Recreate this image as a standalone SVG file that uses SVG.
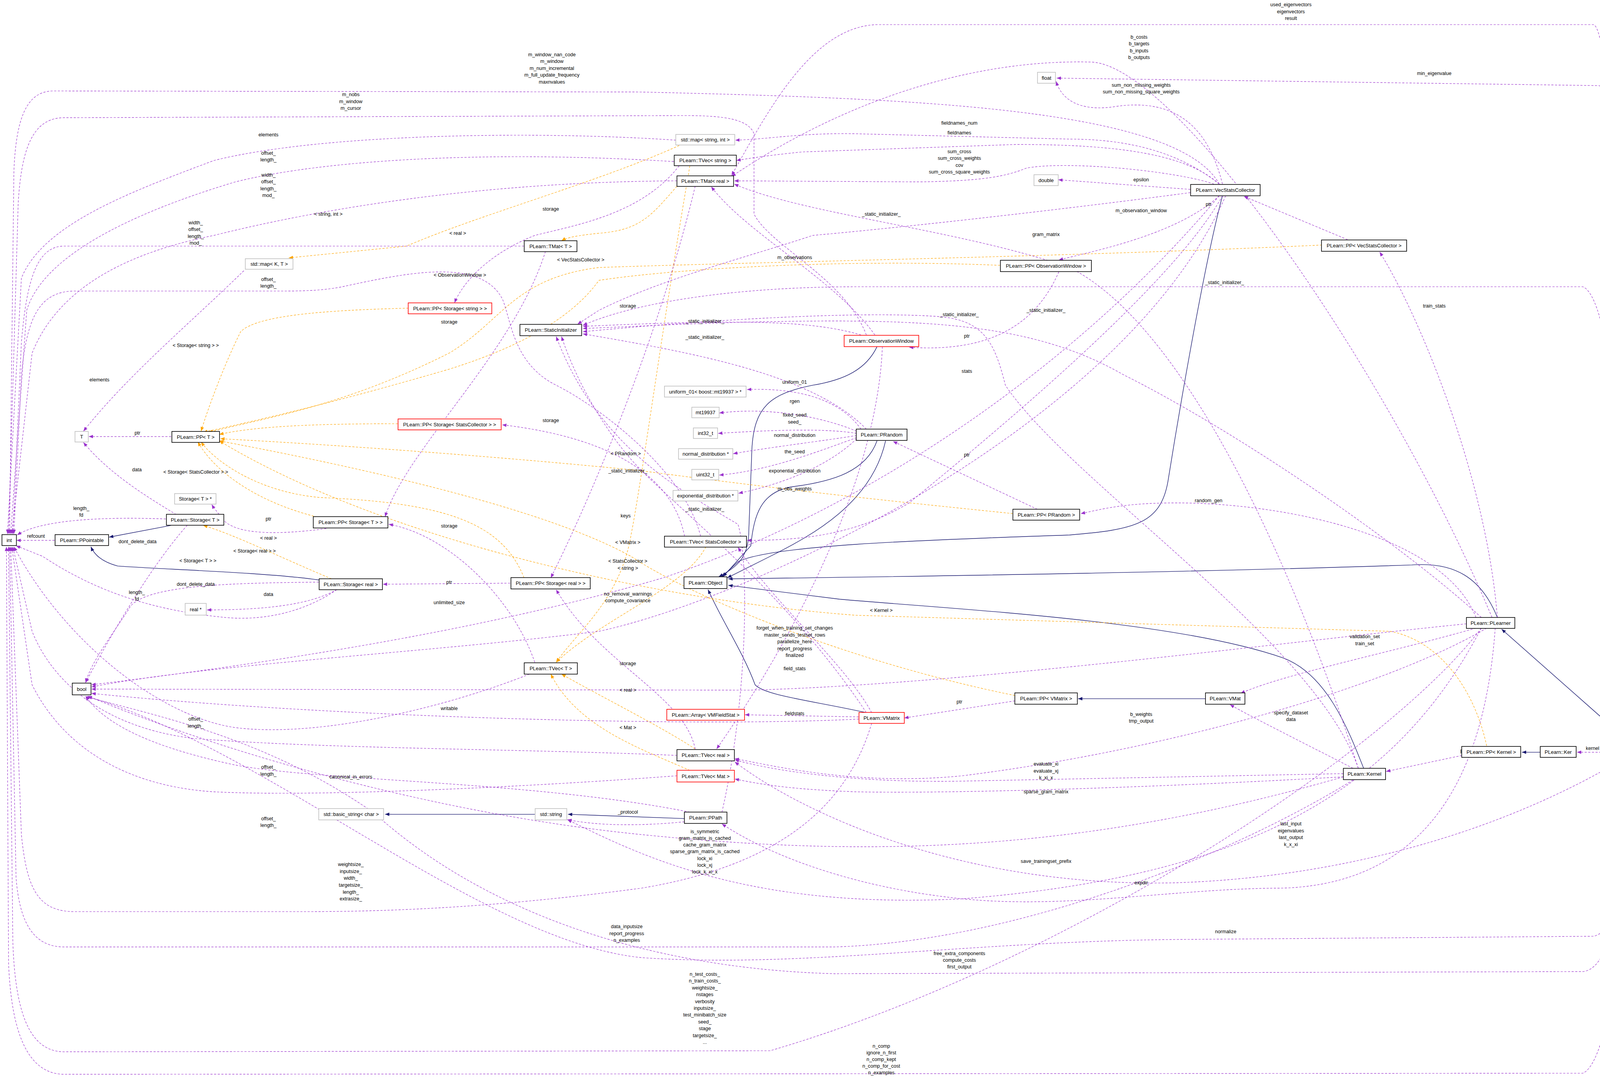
<svg xmlns="http://www.w3.org/2000/svg" width="4293" height="2761" viewBox="0 0 4293 2761">
<style>
.n rect{fill:#fff;stroke:#000;stroke-width:1.6}
.g rect{fill:#fff;stroke:#bfbfbf;stroke-width:1.6}
.r rect{fill:#fff;stroke:#f00;stroke-width:1.6}
.k rect{fill:#bfbfbf;stroke:#000;stroke-width:1.6}
.n text,.g text,.r text,.k text{font-family:"Liberation Sans",Arial,sans-serif;font-size:13px;text-anchor:middle;fill:#000}
.p{fill:none;stroke:#9a32cd;stroke-width:0.42;stroke-dasharray:2,1.4;marker-end:url(#ap)}
.o{fill:none;stroke:#ffa500;stroke-width:0.42;stroke-dasharray:2,1.4;marker-end:url(#ao)}
.s{fill:none;stroke:#191970;stroke-width:0.5;marker-end:url(#as)}
.l{font-family:"Liberation Sans",Arial,sans-serif;font-size:4.6px;text-anchor:middle;fill:#000}
</style>
<defs>
<marker id="ap" markerUnits="userSpaceOnUse" markerWidth="5" markerHeight="4" refX="4" refY="1.6" orient="auto"><path d="M0,0 L4,1.6 L0,3.2 z" fill="#9a32cd"/></marker>
<marker id="ao" markerUnits="userSpaceOnUse" markerWidth="5" markerHeight="4" refX="4" refY="1.6" orient="auto"><path d="M0,0 L4,1.6 L0,3.2 z" fill="#ffa500"/></marker>
<marker id="as" markerUnits="userSpaceOnUse" markerWidth="5" markerHeight="4" refX="4" refY="1.6" orient="auto"><path d="M0,0 L4,1.6 L0,3.2 z" fill="#191970"/></marker>
</defs>
<rect width="4293" height="2761" fill="#fff"/>
<g id="edges" transform="scale(2.738)">
<!-- solid -->
<path class="s" d="M1528,697.6 L1404,588"/>
<path class="s" d="M1440,703 L1423,703"/>
<path class="s" d="M1400,577 C1385,540 1360,525 1320,528 C1200,532 1000,537 681,541"/>
<path class="s" d="M1275,718 C1260,680 1240,630 1200,615 C1100,580 900,570 785,560 L681,547"/>
<path class="s" d="M1143,183 C1125,250 1100,400 1092,450 C1085,490 1060,495 1000,500 C850,505 720,510 690,525 L675,539"/>
<path class="s" d="M820,324 C810,345 790,355 760,360 C720,368 705,380 703,420 L700,500 C699,520 690,530 672,539"/>
<path class="s" d="M820,412 C810,440 780,450 740,455 C712,460 705,480 702,510 L676,539"/>
<path class="s" d="M828,412 C815,470 760,500 720,520 L680,540"/>
<path class="s" d="M810,666 C760,655 715,650 706,640 C695,610 675,580 662,551"/>
<path class="s" d="M1127,653 L1008,653"/>
<path class="s" d="M640,765 L531,761"/>
<path class="s" d="M500,761 L360,761"/>
<path class="s" d="M160,491 L102,502"/>
<path class="s" d="M298,542 C250,535 150,532 110,529 C95,525 88,518 85,511"/>
<!-- orange -->
<path class="o" d="M1390,697 C1380,650 1350,600 1300,590 L800,575 C600,560 350,500 205,412"/>
<path class="o" d="M947,480 C850,470 750,460 600,440 C450,425 300,415 206,410"/>
<path class="o" d="M1236,229 C1000,240 700,245 560,250 C480,260 470,300 420,330 C320,380 250,390 195,404"/>
<path class="o" d="M935,248 C800,242 640,250 560,262 C540,290 500,320 420,345 C300,380 230,395 190,404"/>
<path class="o" d="M382,288 C300,290 240,295 225,310 C210,340 195,380 188,403"/>
<path class="o" d="M372,396 C300,396 240,398 205,406"/>
<path class="o" d="M490,540 C470,490 420,470 300,465 C240,460 200,430 188,413"/>
<path class="o" d="M300,484 C240,470 200,440 185,413"/>
<path class="o" d="M310,541 C260,520 220,500 190,491"/>
<path class="o" d="M635,136 C560,170 450,200 380,230 L270,241"/>
<path class="o" d="M633,174 C610,200 600,215 560,218 C540,220 530,222 525,225"/>
<path class="o" d="M949,650 C800,620 650,560 590,520 C500,470 300,430 205,412"/>
<path class="o" d="M660,511 C640,550 560,580 520,619"/>
<path class="o" d="M645,155 C620,300 600,450 590,500 C580,560 540,590 520,619"/>
<path class="o" d="M650,700 C620,680 560,650 525,630"/>
<path class="o" d="M645,720 C600,700 540,680 515,630"/>
<!-- purple -->
<path class="p" d="M1140,172 C1100,100 850,92 600,86 L50,85 C25,85 15,110 13,160 L9,499"/>
<path class="p" d="M810,313 C790,260 720,230 705,200 L705,125 C700,112 680,108 640,108 L60,110 C30,110 20,140 17,190 L8,499"/>
<path class="p" d="M632,131 C500,122 300,125 200,150 C120,180 40,210 20,260 L7,499"/>
<path class="p" d="M630,151 C450,140 300,150 220,170 C120,200 40,240 25,290 L10,499"/>
<path class="p" d="M633,169 C450,170 300,195 200,220 C100,240 50,280 30,330 L11,499"/>
<path class="p" d="M490,230 L60,230 C35,230 25,260 20,320 L12,499"/>
<path class="p" d="M655,501 C640,440 560,380 520,360 C480,340 478,300 470,280 C450,240 380,255 320,268 C300,272 280,272 260,272 L70,272 C35,272 25,300 20,350 L13,499"/>
<path class="p" d="M155,485 C100,483 40,485 16,500"/>
<path class="p" d="M51,505 L15.5,505"/>
<path class="p" d="M315,551 C280,575 240,580 210,577 C160,572 100,560 40,520 L15,510"/>
<path class="p" d="M1533,708 C1525,800 1510,990 1480,1003 L60,1004 C20,1004 10,950 8,900 L6,511"/>
<path class="p" d="M1385,587 C1300,700 1000,900 720,982 L60,983 C25,983 14,940 12,880 L8,511"/>
<path class="p" d="M1265,729 C1150,800 950,880 780,885 L60,885 C30,885 18,860 15,820 L9,511"/>
<path class="p" d="M815,676 C790,760 720,810 600,830 C450,850 350,852 280,852 L70,852 C35,852 25,830 20,780 L10,511"/>
<path class="p" d="M1528,708 C1522,800 1515,870 1490,875 L1100,878 C900,880 750,905 600,895 C450,880 250,700 82,651"/>
<path class="p" d="M1525,708 C1520,820 1510,905 1480,908 L780,910 C600,905 450,850 350,760 C250,690 150,670 80,651"/>
<path class="p" d="M633,725 C500,735 300,745 200,740 C120,735 60,700 30,640 L11,511"/>
<path class="p" d="M633,706 C500,700 300,700 180,690 C100,680 50,640 30,590 L12,511"/>
<path class="p" d="M495,630 C420,660 300,690 220,680 C150,670 60,600 13,511"/>
<path class="p" d="M175,491 C140,530 100,600 80,638"/>
<path class="p" d="M298,544 C230,545 130,545 120,570 C100,600 85,620 80,638"/>
<path class="p" d="M315,551 C290,565 250,570 193.5,570"/>
<path class="p" d="M165,481 C130,460 100,440 78,413.5"/>
<path class="p" d="M160,408 L83,408"/>
<path class="p" d="M305,494 C260,500 220,500 208,485 C203,478 200,475 198,471.5"/>
<path class="p" d="M477,545 L358,546"/>
<path class="p" d="M500,619 C480,560 420,500 363.5,490"/>
<path class="p" d="M650,700 C640,650 560,620 520,551"/>
<path class="p" d="M510,235 C480,330 380,420 360,483"/>
<path class="p" d="M635,155 C600,200 540,210 500,220 C450,240 430,270 425,283"/>
<path class="p" d="M640,501 C630,450 580,410 469.5,397"/>
<path class="p" d="M650,174 C620,300 560,450 515,540"/>
<path class="p" d="M228,253 C180,300 120,350 78,403"/>
<path class="p" d="M1113,180 C1000,195 850,212 760,220 C700,240 620,260 560,290 L540,303"/>
<path class="p" d="M1530,697 C1525,500 1510,280 1480,268 L800,268 C700,268 600,280 545,304"/>
<path class="p" d="M1385,577 C1300,500 1150,400 1050,350 C980,310 900,300 780,300 C680,300 600,305 545,307"/>
<path class="p" d="M1270,718 C1230,600 1000,450 940,360 C930,320 920,300 880,296 C800,290 650,300 545,310"/>
<path class="p" d="M810,401 C760,350 650,330 545,312"/>
<path class="p" d="M805,313 C760,300 700,298 545,305"/>
<path class="p" d="M810,666 C740,560 640,480 600,440 C570,410 540,360 525,314.5"/>
<path class="p" d="M675,759 C700,650 700,520 690,490 C640,460 560,420 520,314.5"/>
<path class="p" d="M1113,177 L989.5,168"/>
<path class="p" d="M1143,172 C1130,120 1100,90 1040,100 C1000,105 990,85 987.5,76"/>
<path class="p" d="M1537,697 C1530,400 1515,85 1495,80 L988,73"/>
<path class="p" d="M1140,172 C1100,140 1050,130 1000,130 L800,125 C750,124 720,130 687.5,131"/>
<path class="p" d="M1140,172 C1110,145 1050,135 950,135 L750,142 C720,145 700,148 688.5,150"/>
<path class="p" d="M1135,172 C1100,160 1000,150 960,157 C940,165 920,169 860,170 L686.5,169"/>
<path class="p" d="M1530,697 C1525,400 1510,30 1490,23 L820,23 C760,25 720,100 684,164"/>
<path class="p" d="M1395,577 C1300,350 1100,60 1020,58 C900,55 780,100 684,165"/>
<path class="p" d="M1270,718 C1200,500 1100,300 1000,250 C900,215 750,200 686.5,172"/>
<path class="p" d="M818,313 C780,260 700,220 665,174.5"/>
<path class="p" d="M1140,183 C1100,220 1020,235 990,243"/>
<path class="p" d="M1260,224 L1163,183.5"/>
<path class="p" d="M990,254 C970,300 930,330 850,324.5"/>
<path class="p" d="M970,476 L835,412.5"/>
<path class="p" d="M1400,577 C1390,450 1330,300 1290,235.5"/>
<path class="p" d="M1143,183 C1100,260 960,380 850,470 C800,500 750,505 698.5,505"/>
<path class="p" d="M1380,577 C1350,500 1200,470 1100,470 C1050,470 1030,476 1010.5,480"/>
<path class="p" d="M805,401 C790,380 760,362 698.5,364"/>
<path class="p" d="M801,403 C770,390 720,380 672.5,386"/>
<path class="p" d="M801,405 C770,400 720,402 671.5,405"/>
<path class="p" d="M801,407 C770,412 720,418 685.5,424"/>
<path class="p" d="M801,409 C770,420 720,440 672.5,444"/>
<path class="p" d="M801,410 C770,440 720,455 690.5,461"/>
<path class="p" d="M825,324 C820,450 740,600 670,700"/>
<path class="p" d="M803,670 L696.5,668"/>
<path class="p" d="M1371,583 C1200,600 900,640 700,645 L85.5,644"/>
<path class="p" d="M815,666 C790,620 720,560 690,511.5"/>
<path class="p" d="M1140,183 C1000,350 800,480 620,540 C450,590 250,620 85.5,640"/>
<path class="p" d="M1146,183 C1050,400 700,560 560,590 C400,610 200,620 85.5,642"/>
<path class="p" d="M803,672 C650,680 300,670 85.5,648"/>
<path class="p" d="M645,759 C500,730 300,730 220,715 C150,700 100,680 80,650.5"/>
<path class="p" d="M640,768 C600,772 560,772 530.5,766"/>
<path class="p" d="M1256,726 C1000,800 800,800 600,780 C400,760 200,700 82,650.5"/>
<path class="p" d="M1265,718 C1230,700 1170,670 1150,658.5"/>
<path class="p" d="M1380,587 C1300,610 1200,630 1160,648"/>
<path class="p" d="M949,655 L845.5,671"/>
<path class="p" d="M1390,587 C1300,640 1100,700 900,725 C800,735 720,715 687,709"/>
<path class="p" d="M1256,723 L900,730 C800,732 720,720 687,710"/>
<path class="p" d="M1256,726 C1100,735 900,742 800,740 C750,738 720,735 687,728"/>
<path class="p" d="M1520,708 C1400,780 1250,820 1100,825 C900,830 750,760 687,712"/>
<path class="p" d="M1385,587 C1300,750 1150,820 900,840 C700,850 600,800 530.5,766"/>
<path class="p" d="M1398,587 C1390,700 1350,825 1200,830 C1100,830 1000,850 900,840 C800,830 720,800 675,770"/>
<path class="p" d="M1367,706 L1296,721"/>
<path class="p" d="M1504,703 L1474.5,703"/>
</g>
<g id="labels" transform="scale(2.738)">
<text class="l" x="516" y="52.5">m_window_nan_code<tspan x="516" dy="6.4">m_window</tspan><tspan x="516" dy="6.4">m_num_incremental</tspan><tspan x="516" dy="6.4">m_full_update_frequency</tspan><tspan x="516" dy="6.4">maxnvalues</tspan></text>
<text class="l" x="328" y="90">m_nobs<tspan x="328" dy="6.4">m_window</tspan><tspan x="328" dy="6.4">m_cursor</tspan></text>
<text class="l" x="251" y="127.5">elements</text>
<text class="l" x="251" y="144.5">offset_<tspan x="251" dy="6.4">length_</tspan></text>
<text class="l" x="251" y="165">width_<tspan x="251" dy="6.4">offset_</tspan><tspan x="251" dy="6.4">length_</tspan><tspan x="251" dy="6.4">mod_</tspan></text>
<text class="l" x="183" y="209.5">width_<tspan x="183" dy="6.4">offset_</tspan><tspan x="183" dy="6.4">length_</tspan><tspan x="183" dy="6.4">mod_</tspan></text>
<text class="l" x="251" y="262.5">offset_<tspan x="251" dy="6.4">length_</tspan></text>
<text class="l" x="76" y="476.5">length_<tspan x="76" dy="6.4">fd</tspan></text>
<text class="l" x="33.6" y="502.5">refcount</text>
<text class="l" x="128" y="555">length_<tspan x="128" dy="6.4">fd</tspan></text>
<text class="l" x="824" y="979">n_comp<tspan x="824" dy="6.3">ignore_n_first</tspan><tspan x="824" dy="6.3">n_comp_kept</tspan><tspan x="824" dy="6.3">n_comp_for_cost</tspan><tspan x="824" dy="6.3">n_examples</tspan></text>
<text class="l" x="659" y="912">n_test_costs_<tspan x="659" dy="6.35">n_train_costs_</tspan><tspan x="659" dy="6.35">weightsize_</tspan><tspan x="659" dy="6.35">nstages</tspan><tspan x="659" dy="6.35">verbosity</tspan><tspan x="659" dy="6.35">inputsize_</tspan><tspan x="659" dy="6.35">test_minibatch_size</tspan><tspan x="659" dy="6.35">seed_</tspan><tspan x="659" dy="6.35">stage</tspan><tspan x="659" dy="6.35">targetsize_</tspan><tspan x="659" dy="6.35">...</tspan></text>
<text class="l" x="586" y="867.5">data_inputsize<tspan x="586" dy="6.4">report_progress</tspan><tspan x="586" dy="6.4">n_examples</tspan></text>
<text class="l" x="328" y="809.5">weightsize_<tspan x="328" dy="6.4">inputsize_</tspan><tspan x="328" dy="6.4">width_</tspan><tspan x="328" dy="6.4">targetsize_</tspan><tspan x="328" dy="6.4">length_</tspan><tspan x="328" dy="6.4">extrasize_</tspan></text>
<text class="l" x="1146" y="872">normalize</text>
<text class="l" x="897" y="892.5">free_extra_components<tspan x="897" dy="6.3">compute_costs</tspan><tspan x="897" dy="6.3">first_output</tspan></text>
<text class="l" x="251" y="766.5">offset_<tspan x="251" dy="6.4">length_</tspan></text>
<text class="l" x="251" y="718.5">offset_<tspan x="251" dy="6.4">length_</tspan></text>
<text class="l" x="183" y="673.5">offset_<tspan x="183" dy="6.4">length_</tspan></text>
<text class="l" x="128.6" y="507.5">dont_delete_data</text>
<text class="l" x="183" y="547.5">dont_delete_data</text>
<text class="l" x="251" y="557">data</text>
<text class="l" x="128" y="440.5">data</text>
<text class="l" x="128.5" y="406">ptr</text>
<text class="l" x="251" y="486.5">ptr</text>
<text class="l" x="420" y="545.5">ptr</text>
<text class="l" x="420" y="493">storage</text>
<text class="l" x="587" y="621.5">storage</text>
<text class="l" x="420" y="302.5">storage</text>
<text class="l" x="515" y="197">storage</text>
<text class="l" x="515" y="394.5">storage</text>
<text class="l" x="587" y="287.5">storage</text>
<text class="l" x="93" y="356.5">elements</text>
<text class="l" x="307" y="201.5">&lt; string, int &gt;</text>
<text class="l" x="428" y="219.5">&lt; real &gt;</text>
<text class="l" x="543" y="244.5">&lt; VecStatsCollector &gt;</text>
<text class="l" x="430" y="258.5">&lt; ObservationWindow &gt;</text>
<text class="l" x="183" y="324.5">&lt; Storage&lt; string &gt; &gt;</text>
<text class="l" x="183" y="442.5">&lt; Storage&lt; StatsCollector &gt; &gt;</text>
<text class="l" x="585" y="425.5">&lt; PRandom &gt;</text>
<text class="l" x="238" y="516.5">&lt; Storage&lt; real &gt; &gt;</text>
<text class="l" x="185" y="525.5">&lt; Storage&lt; T &gt; &gt;</text>
<text class="l" x="251" y="504.5">&lt; real &gt;</text>
<text class="l" x="585" y="483.5">keys</text>
<text class="l" x="824" y="572">&lt; Kernel &gt;</text>
<text class="l" x="587" y="508.5">&lt; VMatrix &gt;</text>
<text class="l" x="587" y="526">&lt; StatsCollector &gt;</text>
<text class="l" x="587" y="532.5">&lt; string &gt;</text>
<text class="l" x="587" y="646.5">&lt; real &gt;</text>
<text class="l" x="587" y="681.5">&lt; Mat &gt;</text>
<text class="l" x="659" y="301.5">_static_initializer_</text>
<text class="l" x="659" y="316.5">_static_initializer_</text>
<text class="l" x="587" y="441.5">_static_initializer_</text>
<text class="l" x="659" y="477.5">_static_initializer_</text>
<text class="l" x="824" y="201.5">_static_initializer_</text>
<text class="l" x="1145" y="265.5">_static_initializer_</text>
<text class="l" x="978" y="291.5">_static_initializer_</text>
<text class="l" x="897" y="295.5">_static_initializer_</text>
<text class="l" x="1067" y="169.5">epsilon</text>
<text class="l" x="1067" y="81">sum_non_missing_weights<tspan x="1067" dy="6.4">sum_non_missing_square_weights</tspan></text>
<text class="l" x="1341" y="70">min_eigenvalue</text>
<text class="l" x="897" y="116.5">fieldnames_num</text>
<text class="l" x="897" y="125.5">fieldnames</text>
<text class="l" x="897" y="143">sum_cross<tspan x="897" dy="6.4">sum_cross_weights</tspan><tspan x="897" dy="6.4">cov</tspan><tspan x="897" dy="6.4">sum_cross_square_weights</tspan></text>
<text class="l" x="1207" y="6">used_eigenvectors<tspan x="1207" dy="6.4">eigenvectors</tspan><tspan x="1207" dy="6.4">result</tspan></text>
<text class="l" x="1065" y="36">b_costs<tspan x="1065" dy="6.4">b_targets</tspan><tspan x="1065" dy="6.4">b_inputs</tspan><tspan x="1065" dy="6.4">b_outputs</tspan></text>
<text class="l" x="978" y="220.5">gram_matrix</text>
<text class="l" x="743" y="242">m_observations</text>
<text class="l" x="1067" y="198.5">m_observation_window</text>
<text class="l" x="1130" y="192.5">ptr</text>
<text class="l" x="904" y="315.5">ptr</text>
<text class="l" x="904" y="426.5">ptr</text>
<text class="l" x="1341" y="287.5">train_stats</text>
<text class="l" x="904" y="348.5">stats</text>
<text class="l" x="1130" y="469.5">random_gen</text>
<text class="l" x="743" y="358.5">uniform_01</text>
<text class="l" x="743" y="376.5">rgen</text>
<text class="l" x="743" y="389.5">fixed_seed<tspan x="743" dy="6.4">seed_</tspan></text>
<text class="l" x="743" y="408.5">normal_distribution</text>
<text class="l" x="743" y="423.5">the_seed</text>
<text class="l" x="743" y="441.5">exponential_distribution</text>
<text class="l" x="743" y="458.5">m_obs_weights</text>
<text class="l" x="743" y="668.5">fieldstats</text>
<text class="l" x="743" y="588.5">forget_when_training_set_changes<tspan x="743" dy="6.4">master_sends_testset_rows</tspan><tspan x="743" dy="6.4">parallelize_here</tspan><tspan x="743" dy="6.4">report_progress</tspan><tspan x="743" dy="6.4">finalized</tspan></text>
<text class="l" x="743" y="626.5">field_stats</text>
<text class="l" x="420" y="564.5">unlimited_size</text>
<text class="l" x="587" y="556.5">no_removal_warnings<tspan x="587" dy="6.4">compute_covariance</tspan></text>
<text class="l" x="420" y="663.5">writable</text>
<text class="l" x="328" y="727.5">canonical_in_errors</text>
<text class="l" x="587" y="760.5">_protocol</text>
<text class="l" x="659" y="778.5">is_symmetric<tspan x="659" dy="6.3">gram_matrix_is_cached</tspan><tspan x="659" dy="6.3">cache_gram_matrix</tspan><tspan x="659" dy="6.3">sparse_gram_matrix_is_cached</tspan><tspan x="659" dy="6.3">lock_xi</tspan><tspan x="659" dy="6.3">lock_xj</tspan><tspan x="659" dy="6.3">lock_k_xi_x</tspan></text>
<text class="l" x="1207" y="667.5">specify_dataset<tspan x="1207" dy="6.4">data</tspan></text>
<text class="l" x="1276" y="596.5">validation_set<tspan x="1276" dy="6.4">train_set</tspan></text>
<text class="l" x="897" y="657.5">ptr</text>
<text class="l" x="1067" y="669">b_weights<tspan x="1067" dy="6.4">tmp_output</tspan></text>
<text class="l" x="978" y="715.5">evaluate_xi<tspan x="978" dy="6.4">evaluate_xj</tspan><tspan x="978" dy="6.4">k_xi_x</tspan></text>
<text class="l" x="978" y="741.5">sparse_gram_matrix</text>
<text class="l" x="1207" y="771.5">last_input<tspan x="1207" dy="6.4">eigenvalues</tspan><tspan x="1207" dy="6.4">last_output</tspan><tspan x="1207" dy="6.4">k_x_xi</tspan></text>
<text class="l" x="978" y="806.5">save_trainingset_prefix</text>
<text class="l" x="1067" y="826.5">expdir</text>
<text class="l" x="1368" y="703">ptr</text>
<text class="l" x="1489" y="701">kernel</text>
</g>
<g id="nodes">
<g id="n_int" class="n"><rect x="5" y="1368" width="37" height="28"/><text x="23.5" y="1387">int</text></g>
<g id="n_PPointable" class="n"><rect x="141" y="1368" width="137" height="28"/><text x="209.5" y="1387">PLearn::PPointable</text></g>
<g id="n_bool" class="n"><rect x="185" y="1748" width="48" height="30"/><text x="209" y="1768">bool</text></g>
<g id="n_T" class="g"><rect x="192" y="1104" width="34" height="27"/><text x="209" y="1122">T</text></g>
<g id="n_PPT" class="n"><rect x="440" y="1104" width="122" height="28"/><text x="501" y="1123">PLearn::PP&lt; T &gt;</text></g>
<g id="n_StorageTptr" class="g"><rect x="447" y="1263" width="106" height="27"/><text x="500" y="1281">Storage&lt; T &gt; *</text></g>
<g id="n_StorageT" class="n"><rect x="426" y="1316" width="147" height="28"/><text x="499.5" y="1335">PLearn::Storage&lt; T &gt;</text></g>
<g id="n_PPStorageT" class="n"><rect x="802" y="1322" width="191" height="29"/><text x="897.5" y="1341">PLearn::PP&lt; Storage&lt; T &gt; &gt;</text></g>
<g id="n_StorageReal" class="n"><rect x="817" y="1481" width="162" height="28"/><text x="898" y="1500">PLearn::Storage&lt; real &gt;</text></g>
<g id="n_realptr" class="g"><rect x="474" y="1544" width="54" height="30"/><text x="501" y="1564">real *</text></g>
<g id="n_PPStorageReal" class="n"><rect x="1308" y="1478" width="203" height="29"/><text x="1409.5" y="1497">PLearn::PP&lt; Storage&lt; real &gt; &gt;</text></g>
<g id="n_mapKT" class="g"><rect x="628" y="662" width="122" height="27"/><text x="689" y="680">std::map&lt; K, T &gt;</text></g>
<g id="n_TMatT" class="n"><rect x="1342" y="616" width="135" height="28"/><text x="1409.5" y="635">PLearn::TMat&lt; T &gt;</text></g>
<g id="n_PPStorageString" class="r"><rect x="1045" y="775" width="214" height="28"/><text x="1152" y="794">PLearn::PP&lt; Storage&lt; string &gt; &gt;</text></g>
<g id="n_PPStorageSC" class="r"><rect x="1019" y="1072" width="264" height="28"/><text x="1151" y="1091">PLearn::PP&lt; Storage&lt; StatsCollector &gt; &gt;</text></g>
<g id="n_StaticInit" class="n"><rect x="1331" y="830" width="158" height="29"/><text x="1410" y="849">PLearn::StaticInitializer</text></g>
<g id="n_mapStringInt" class="g"><rect x="1730" y="344" width="151" height="27"/><text x="1805.5" y="362">std::map&lt; string, int &gt;</text></g>
<g id="n_TVecString" class="n"><rect x="1726" y="397" width="159" height="27"/><text x="1805.5" y="415">PLearn::TVec&lt; string &gt;</text></g>
<g id="n_TMatReal" class="n"><rect x="1733" y="450" width="145" height="27"/><text x="1805.5" y="468">PLearn::TMat&lt; real &gt;</text></g>
<g id="n_float" class="g"><rect x="2656" y="185" width="46" height="28"/><text x="2679" y="204">float</text></g>
<g id="n_double" class="g"><rect x="2647" y="447" width="62" height="28"/><text x="2678" y="466">double</text></g>
<g id="n_VSC" class="n"><rect x="3048" y="472" width="178" height="29"/><text x="3137" y="491">PLearn::VecStatsCollector</text></g>
<g id="n_PPVSC" class="n"><rect x="3383" y="614" width="218" height="29"/><text x="3492" y="633">PLearn::PP&lt; VecStatsCollector &gt;</text></g>
<g id="n_PPObsWin" class="n"><rect x="2561" y="666" width="233" height="29"/><text x="2677.5" y="685">PLearn::PP&lt; ObservationWindow &gt;</text></g>
<g id="n_ObsWin" class="r"><rect x="2161" y="858" width="191" height="29"/><text x="2256.5" y="877">PLearn::ObservationWindow</text></g>
<g id="n_uniform01" class="g"><rect x="1701" y="988" width="209" height="28"/><text x="1805.5" y="1007">uniform_01&lt; boost::mt19937 &gt; *</text></g>
<g id="n_mt19937" class="g"><rect x="1771" y="1042" width="70" height="27"/><text x="1806" y="1060">mt19937</text></g>
<g id="n_int32" class="g"><rect x="1775" y="1095" width="62" height="27"/><text x="1806" y="1113">int32_t</text></g>
<g id="n_normal" class="g"><rect x="1737" y="1148" width="139" height="27"/><text x="1806.5" y="1166">normal_distribution *</text></g>
<g id="n_uint32" class="g"><rect x="1771" y="1201" width="69" height="27"/><text x="1805.5" y="1219">uint32_t</text></g>
<g id="n_exp" class="g"><rect x="1723" y="1255" width="166" height="27"/><text x="1806" y="1273">exponential_distribution *</text></g>
<g id="n_PRandom" class="n"><rect x="2192" y="1098" width="130" height="29"/><text x="2257" y="1117">PLearn::PRandom</text></g>
<g id="n_PPPRandom" class="n"><rect x="2593" y="1303" width="171" height="28"/><text x="2678.5" y="1322">PLearn::PP&lt; PRandom &gt;</text></g>
<g id="n_TVecSC" class="n"><rect x="1701" y="1372" width="210" height="28"/><text x="1806" y="1391">PLearn::TVec&lt; StatsCollector &gt;</text></g>
<g id="n_Object" class="n"><rect x="1751" y="1476" width="110" height="30"/><text x="1806" y="1496">PLearn::Object</text></g>
<g id="n_TVecT" class="n"><rect x="1342" y="1696" width="136" height="29"/><text x="1410" y="1715">PLearn::TVec&lt; T &gt;</text></g>
<g id="n_ArrayVM" class="r"><rect x="1707" y="1815" width="199" height="28"/><text x="1806.5" y="1834">PLearn::Array&lt; VMFieldStat &gt;</text></g>
<g id="n_TVecReal" class="n"><rect x="1733" y="1918" width="147" height="29"/><text x="1806.5" y="1937">PLearn::TVec&lt; real &gt;</text></g>
<g id="n_TVecMat" class="r"><rect x="1733" y="1971" width="147" height="30"/><text x="1806.5" y="1991">PLearn::TVec&lt; Mat &gt;</text></g>
<g id="n_basicString" class="g"><rect x="816" y="2069" width="166" height="29"/><text x="899" y="2088">std::basic_string&lt; char &gt;</text></g>
<g id="n_stdString" class="g"><rect x="1370" y="2069" width="81" height="29"/><text x="1410.5" y="2088">std::string</text></g>
<g id="n_PPath" class="n"><rect x="1752" y="2078" width="109" height="29"/><text x="1806.5" y="2097">PLearn::PPath</text></g>
<g id="n_PLearner" class="n"><rect x="3754" y="1580" width="124" height="28"/><text x="3816" y="1599">PLearn::PLearner</text></g>
<g id="n_PPVMatrix" class="n"><rect x="2598" y="1773" width="160" height="29"/><text x="2678" y="1792">PLearn::PP&lt; VMatrix &gt;</text></g>
<g id="n_VMat" class="n"><rect x="3086" y="1773" width="101" height="29"/><text x="3136.5" y="1792">PLearn::VMat</text></g>
<g id="n_VMatrix" class="r"><rect x="2199" y="1823" width="116" height="28"/><text x="2257" y="1842">PLearn::VMatrix</text></g>
<g id="n_PPKernel" class="n"><rect x="3742" y="1910" width="151" height="28"/><text x="3817.5" y="1929">PLearn::PP&lt; Kernel &gt;</text></g>
<g id="n_Ker" class="n"><rect x="3943" y="1910" width="92" height="28"/><text x="3989" y="1929">PLearn::Ker</text></g>
<g id="n_KernelProjection" class="k"><rect x="4119" y="1910" width="167" height="28"/><text x="4202.5" y="1929">PLearn::KernelProjection</text></g>
<g id="n_Kernel" class="n"><rect x="3439" y="1966" width="108" height="29"/><text x="3493" y="1985">PLearn::Kernel</text></g>
</g>
</svg>
